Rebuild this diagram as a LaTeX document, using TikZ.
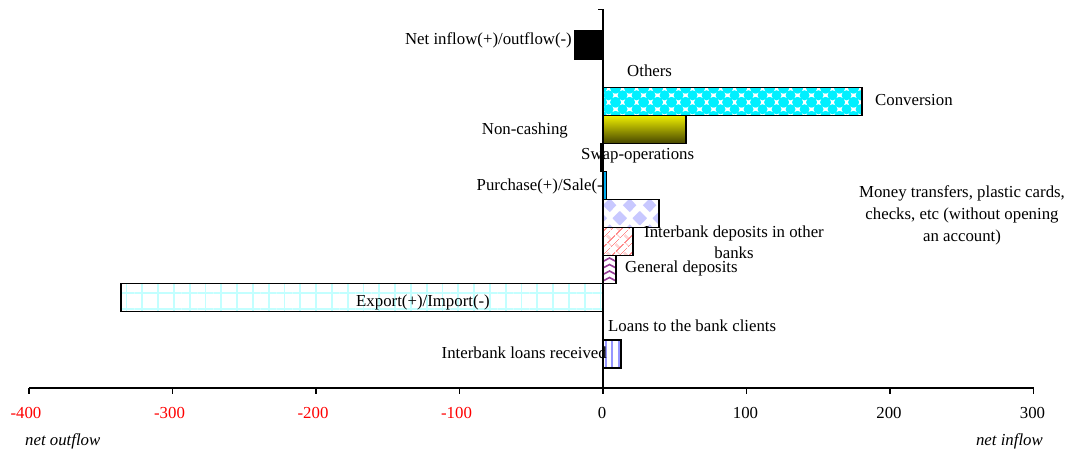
\documentclass[tikz,border=0pt]{standalone}
\usepackage{fontspec}
\setmainfont{Liberation Serif}
\usetikzlibrary{patterns.meta}

\definecolor{gridcyan}{RGB}{195,255,255}
\definecolor{lav}{RGB}{200,200,255}
\definecolor{brickred}{RGB}{255,140,140}
\definecolor{chev}{RGB}{150,60,150}
\definecolor{vline}{RGB}{150,150,255}
\definecolor{olivetop}{RGB}{240,240,0}
\definecolor{olivebot}{RGB}{70,70,0}
\definecolor{bubble}{RGB}{0,240,255}
\definecolor{negred}{RGB}{255,0,0}

\tikzdeclarepattern{
  name=Bubbles,
  type=uncolored,
  bounding box={(0pt,0pt) and (14pt,14pt)},
  tile size={(14pt,14pt)},
  code={
    \fill (0pt,0pt) circle[radius=5.3pt];
    \fill (14pt,0pt) circle[radius=5.3pt];
    \fill (0pt,14pt) circle[radius=5.3pt];
    \fill (14pt,14pt) circle[radius=5.3pt];
    \fill (7pt,7pt) circle[radius=5.3pt];
  }
}

\tikzdeclarepattern{
  name=Diamonds,
  type=uncolored,
  bounding box={(0pt,0pt) and (20pt,26pt)},
  tile size={(20pt,26pt)},
  code={
    \fill (0pt,0pt) +(0pt,-7pt) -- +(7pt,0pt) -- +(0pt,7pt) -- +(-7pt,0pt) -- cycle;
    \fill (20pt,0pt) +(0pt,-7pt) -- +(7pt,0pt) -- +(0pt,7pt) -- +(-7pt,0pt) -- cycle;
    \fill (0pt,26pt) +(0pt,-7pt) -- +(7pt,0pt) -- +(0pt,7pt) -- +(-7pt,0pt) -- cycle;
    \fill (20pt,26pt) +(0pt,-7pt) -- +(7pt,0pt) -- +(0pt,7pt) -- +(-7pt,0pt) -- cycle;
    \fill (10pt,13pt) +(0pt,-7pt) -- +(7pt,0pt) -- +(0pt,7pt) -- +(-7pt,0pt) -- cycle;
  }
}

\tikzdeclarepattern{
  name=DiagBricks,
  type=uncolored,
  bounding box={(0pt,0pt) and (12pt,12pt)},
  tile size={(12pt,12pt)},
  tile transformation={rotate=45},
  code={
    \draw[line width=1.3pt] (0pt,0pt)--(12pt,0pt) (0pt,6pt)--(12pt,6pt)
      (0pt,0pt)--(0pt,6pt) (6pt,6pt)--(6pt,12pt);
  }
}

\tikzset{
  lbl/.style={inner sep=0pt, font=\fontsize{16.8}{21}\selectfont},
  tick/.style={inner sep=0pt, font=\fontsize{16.8}{21}\selectfont},
  bar/.style={draw=black, line width=1.2pt},
  axisline/.style={draw=black, line width=1.3pt},
}

\begin{document}
\begin{tikzpicture}[x=1pt,y=-1pt]
\useasboundingbox (0,0) rectangle (1070,451);
\fill[white] (0,0) rectangle (1070,451);

% ---- bars ----
% Net inflow/outflow
\path[bar, fill=black] (575,31) rectangle (603,59.1);
% Conversion
\path[fill=white, postaction={pattern=Bubbles, pattern color=bubble}] (603,87.2) rectangle (862,115.2);
\path[bar] (603,87.2) rectangle (862,115.2);
% Non-cashing
\path[bar, top color=olivetop, bottom color=olivebot] (603,115.2) rectangle (686,143.3);
% Swap-operations
\path[bar, fill=black] (601,143.3) rectangle (603,171.4);
% Purchase/Sale
\path[draw=black, line width=0.9pt, fill=cyan] (603,171.4) rectangle (606.5,199.5);
% Money transfers
\path[fill=white, postaction={pattern=Diamonds, pattern color=lav}] (603,199.5) rectangle (659,227.6);
\path[bar] (603,199.5) rectangle (659,227.6);
% Interbank deposits
\path[fill=white, postaction={pattern=DiagBricks, pattern color=brickred}] (603,227.6) rectangle (633,255.6);
\path[bar] (603,227.6) rectangle (633,255.6);
% General deposits (chevrons)
\fill[white] (603,255.6) rectangle (616,283.7);
\begin{scope}
  \clip (603,255.6) rectangle (616,283.7);
  \foreach \yy in {258,264.5,271,277.5,284}{
    \draw[chev, line width=1.6pt] (603,\yy+3.5) -- (609.5,\yy) -- (616,\yy+3.5);
  }
\end{scope}
\path[bar] (603,255.6) rectangle (616,283.7);
% Export/Import
\path[fill=white, postaction={pattern={Hatch[distance=15.8pt, line width=1.8pt]}, pattern color=gridcyan}] (121,283.7) rectangle (603,311.8);
\path[bar] (121,283.7) rectangle (603,311.8);
% Interbank loans received
\fill[white] (603,339.9) rectangle (621,368);
\begin{scope}
  \clip (603,339.9) rectangle (621,368);
  \foreach \xx in {605.5,612.3,619}{
    \draw[vline, line width=2pt] (\xx,339.9) -- (\xx,368);
  }
\end{scope}
\path[bar] (603,339.9) rectangle (621,368);

% ---- axes ----
\coordinate (vtop) at (603,9.5);
\coordinate (vtick) at (598,9.5);
\coordinate (origin) at (603,388);
\coordinate (xl) at (29,388);
\coordinate (xr) at (1033.5,388);
\draw[axisline] (vtick) -- (vtop) -- (origin);
\draw[axisline] (xl) -- (xr);
\foreach \v in {-400,-300,-200,-100,0,100,200,300}{
  \draw[axisline] ({603+1.435*\v},388) -- ({603+1.435*\v},393.5);
}
\foreach \v/\n in {-400/m4,-300/m3,-200/m2,-100/m1}{
  \node[tick, text=negred] (t\n) at ({600+1.435*\v},413) {\v};
}
\foreach \v/\n in {0/z,100/p1,200/p2,300/p3}{
  \node[tick] (t\n) at ({602+1.435*\v},413) {\v};
}
\node[lbl, anchor=west, font=\fontsize{16.8}{21}\selectfont\itshape] (nout) at (25,441) {net outflow};
\node[lbl, anchor=east, font=\fontsize{16.8}{21}\selectfont\itshape] (nin) at (1043,441) {net inflow};

% ---- labels ----
\node[lbl, anchor=east] (lnet) at (572,40) {Net inflow(+)/outflow(-)};
\node[lbl, anchor=west] (lothers) at (627,71) {Others};
\node[lbl, anchor=west] (lconv) at (875,100) {Conversion};
\node[lbl, anchor=east] (lnonc) at (568,130) {Non-cashing};
\node[lbl, anchor=west] (lswap) at (581,156) {Swap-operations};
\node[lbl, anchor=east] (lpurch) at (603,186) {Purchase(+)/Sale(-};
\node[lbl, align=center, font=\fontsize{16.8}{22}\selectfont] (lmoney) at (962,215) {Money transfers, plastic cards,\\checks, etc (without opening\\an account)};
\node[lbl, align=center] (lidep) at (734,242) {Interbank deposits in other\\banks};
\node[lbl, anchor=west] (lgen) at (625,268.5) {General deposits};
\node[lbl] (lexp) at (423,302) {Export(+)/Import(-)};
\node[lbl, anchor=west] (lloans) at (608,326) {Loans to the bank clients};
\node[lbl, anchor=east] (lilr) at (607,353) {Interbank loans received};
\end{tikzpicture}
\end{document}
